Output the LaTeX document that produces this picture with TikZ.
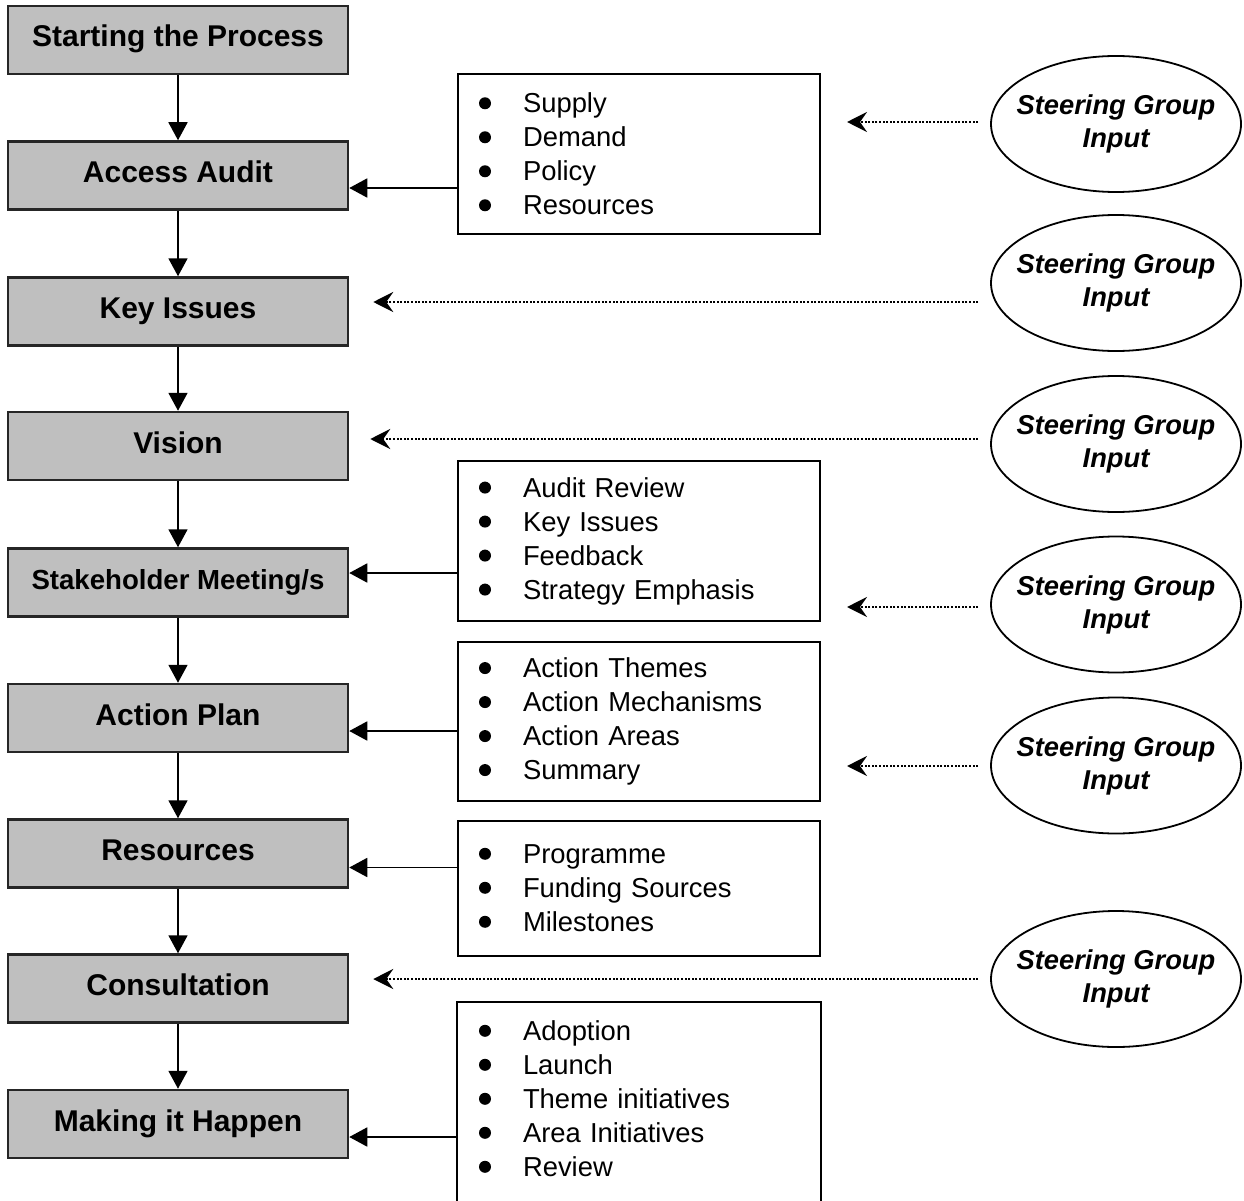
\documentclass[tikz,border=0pt]{standalone}
\usepackage{fontspec}
\setmainfont{Liberation Sans}
\usetikzlibrary{arrows.meta,shapes.geometric}
\newcommand{\blt}{\makebox[44pt][l]{\tikz[baseline=-9.5pt]\fill (6pt,0pt) circle (6pt);}}
\newcommand{\sgtext}{\makebox[0pt]{Steering Group}\\Input}
\begin{document}
\begin{tikzpicture}[x=1pt, y=-1pt]
\tikzstyle{stage}=[rectangle, draw=black!85, line width=2.5pt, fill=gray!50, minimum width=340pt, minimum height=68pt, text height=22pt, text depth=8pt, font=\fontsize{30}{36}\selectfont\bfseries]
\tikzstyle{items}=[rectangle, draw, line width=2pt, minimum width=362pt, text width=320pt, inner xsep=21pt, align=left, font=\fontsize{27.4}{34}\selectfont]
\tikzstyle{sg}=[ellipse, draw, line width=1.8pt, minimum width=250pt, minimum height=136pt, align=center, font=\fontsize{27.3}{33}\selectfont\bfseries\itshape]
\tikzstyle{flow}=[-{Triangle[length=18pt,width=19pt]}, line width=1.8pt]
\tikzstyle{input}=[-{Stealth[length=20pt,width=20pt,inset=7pt]}, line width=2.5pt, dash pattern=on 2pt off 1.6pt, shorten <=12pt]
\useasboundingbox (0,0) rectangle (1244,1201);
    % process steps
    \node [stage] (start) at (178,40) {Starting the Process};
    \node [stage] (audit) at (178,175.5) {Access Audit};
    \node [stage] (issues) at (178,311.5) {Key Issues};
    \node [stage] (vision) at (178,446) {Vision};
    \node [stage, font=\fontsize{27.6}{33}\selectfont\bfseries] (meet) at (178,582.5) {Stakeholder Meeting/s};
    \node [stage] (plan) at (178,718) {Action Plan};
    \node [stage] (res) at (178,853.5) {Resources};
    \node [stage] (consult) at (178,988.5) {Consultation};
    \node [stage] (happen) at (178,1124) {Making it Happen};
    % lists
    \node [items, minimum height=160pt] (auditlist) at (639,154) {\blt Supply\\ \blt Demand\\ \blt Policy\\ \blt Resources};
    \node [items, minimum height=160pt] (meetlist) at (639,541) {\blt Audit Review\\ \blt Key Issues\\ \blt Feedback\\ \blt Strategy Emphasis};
    \node [items, minimum height=159pt] (planlist) at (639,721.5) {\blt Action Themes\\ \blt Action Mechanisms\\ \blt Action Areas\\ \blt Summary};
    \node [items, minimum height=135pt] (reslist) at (639,888) {\blt Programme\\ \blt Funding Sources\\ \blt Milestones};
    \node [items, draw=none, minimum height=191pt] (happenlist) at (639,1098.5) {\blt Adoption\\ \blt Launch\\ \blt Theme initiatives\\ \blt Area Initiatives\\ \blt Review};
    \draw [line width=2pt] ([yshift=-40pt]happenlist.south west) -- (happenlist.north west) -- (happenlist.north east) -- ([yshift=-40pt]happenlist.south east);
    % steering group
    \node [sg] (sg1) at (1116,124) {\sgtext};
    \node [sg] (sg2) at (1116,283) {\sgtext};
    \node [sg] (sg3) at (1116,444) {\sgtext};
    \node [sg] (sg4) at (1116,604.5) {\sgtext};
    \node [sg] (sg5) at (1116,765.5) {\sgtext};
    \node [sg] (sg6) at (1116,979) {\sgtext};
    % main flow
    \draw [flow] (start) -- (audit);
    \draw [flow] (audit) -- (issues);
    \draw [flow] (issues) -- (vision);
    \draw [flow] (vision) -- (meet);
    \draw [flow] (meet) -- (plan);
    \draw [flow] (plan) -- (res);
    \draw [flow] (res) -- (consult);
    \draw [flow] (consult) -- (happen);
    \draw [flow] (auditlist.west |- 0,188) -- (audit.east |- 0,188);
    \draw [flow] (meetlist.west |- 0,573) -- (meet.east |- 0,573);
    \draw [flow] (planlist.west |- 0,731) -- (plan.east |- 0,731);
    \draw [flow] (reslist.west |- 0,867.5) -- (res.east |- 0,867.5);
    \draw [flow] (happenlist.west |- 0,1137) -- (happen.east |- 0,1137);
    % inputs
    \draw [input, shorten >=26pt] (sg1.west |- 0,122) -- (auditlist.east |- 0,122);
    \draw [input, shorten >=24pt] (sg2.west |- 0,302) -- (issues.east |- 0,302);
    \draw [input, shorten >=21pt] (sg3.west |- 0,439) -- (vision.east |- 0,439);
    \draw [input, shorten >=26pt] (sg4.west |- 0,607) -- (meetlist.east |- 0,607);
    \draw [input, shorten >=26pt] (sg5.west |- 0,766) -- (planlist.east |- 0,766);
    \draw [input, shorten >=24pt] (sg6.west |- 0,979) -- (consult.east |- 0,979);
\end{tikzpicture}
\end{document}
